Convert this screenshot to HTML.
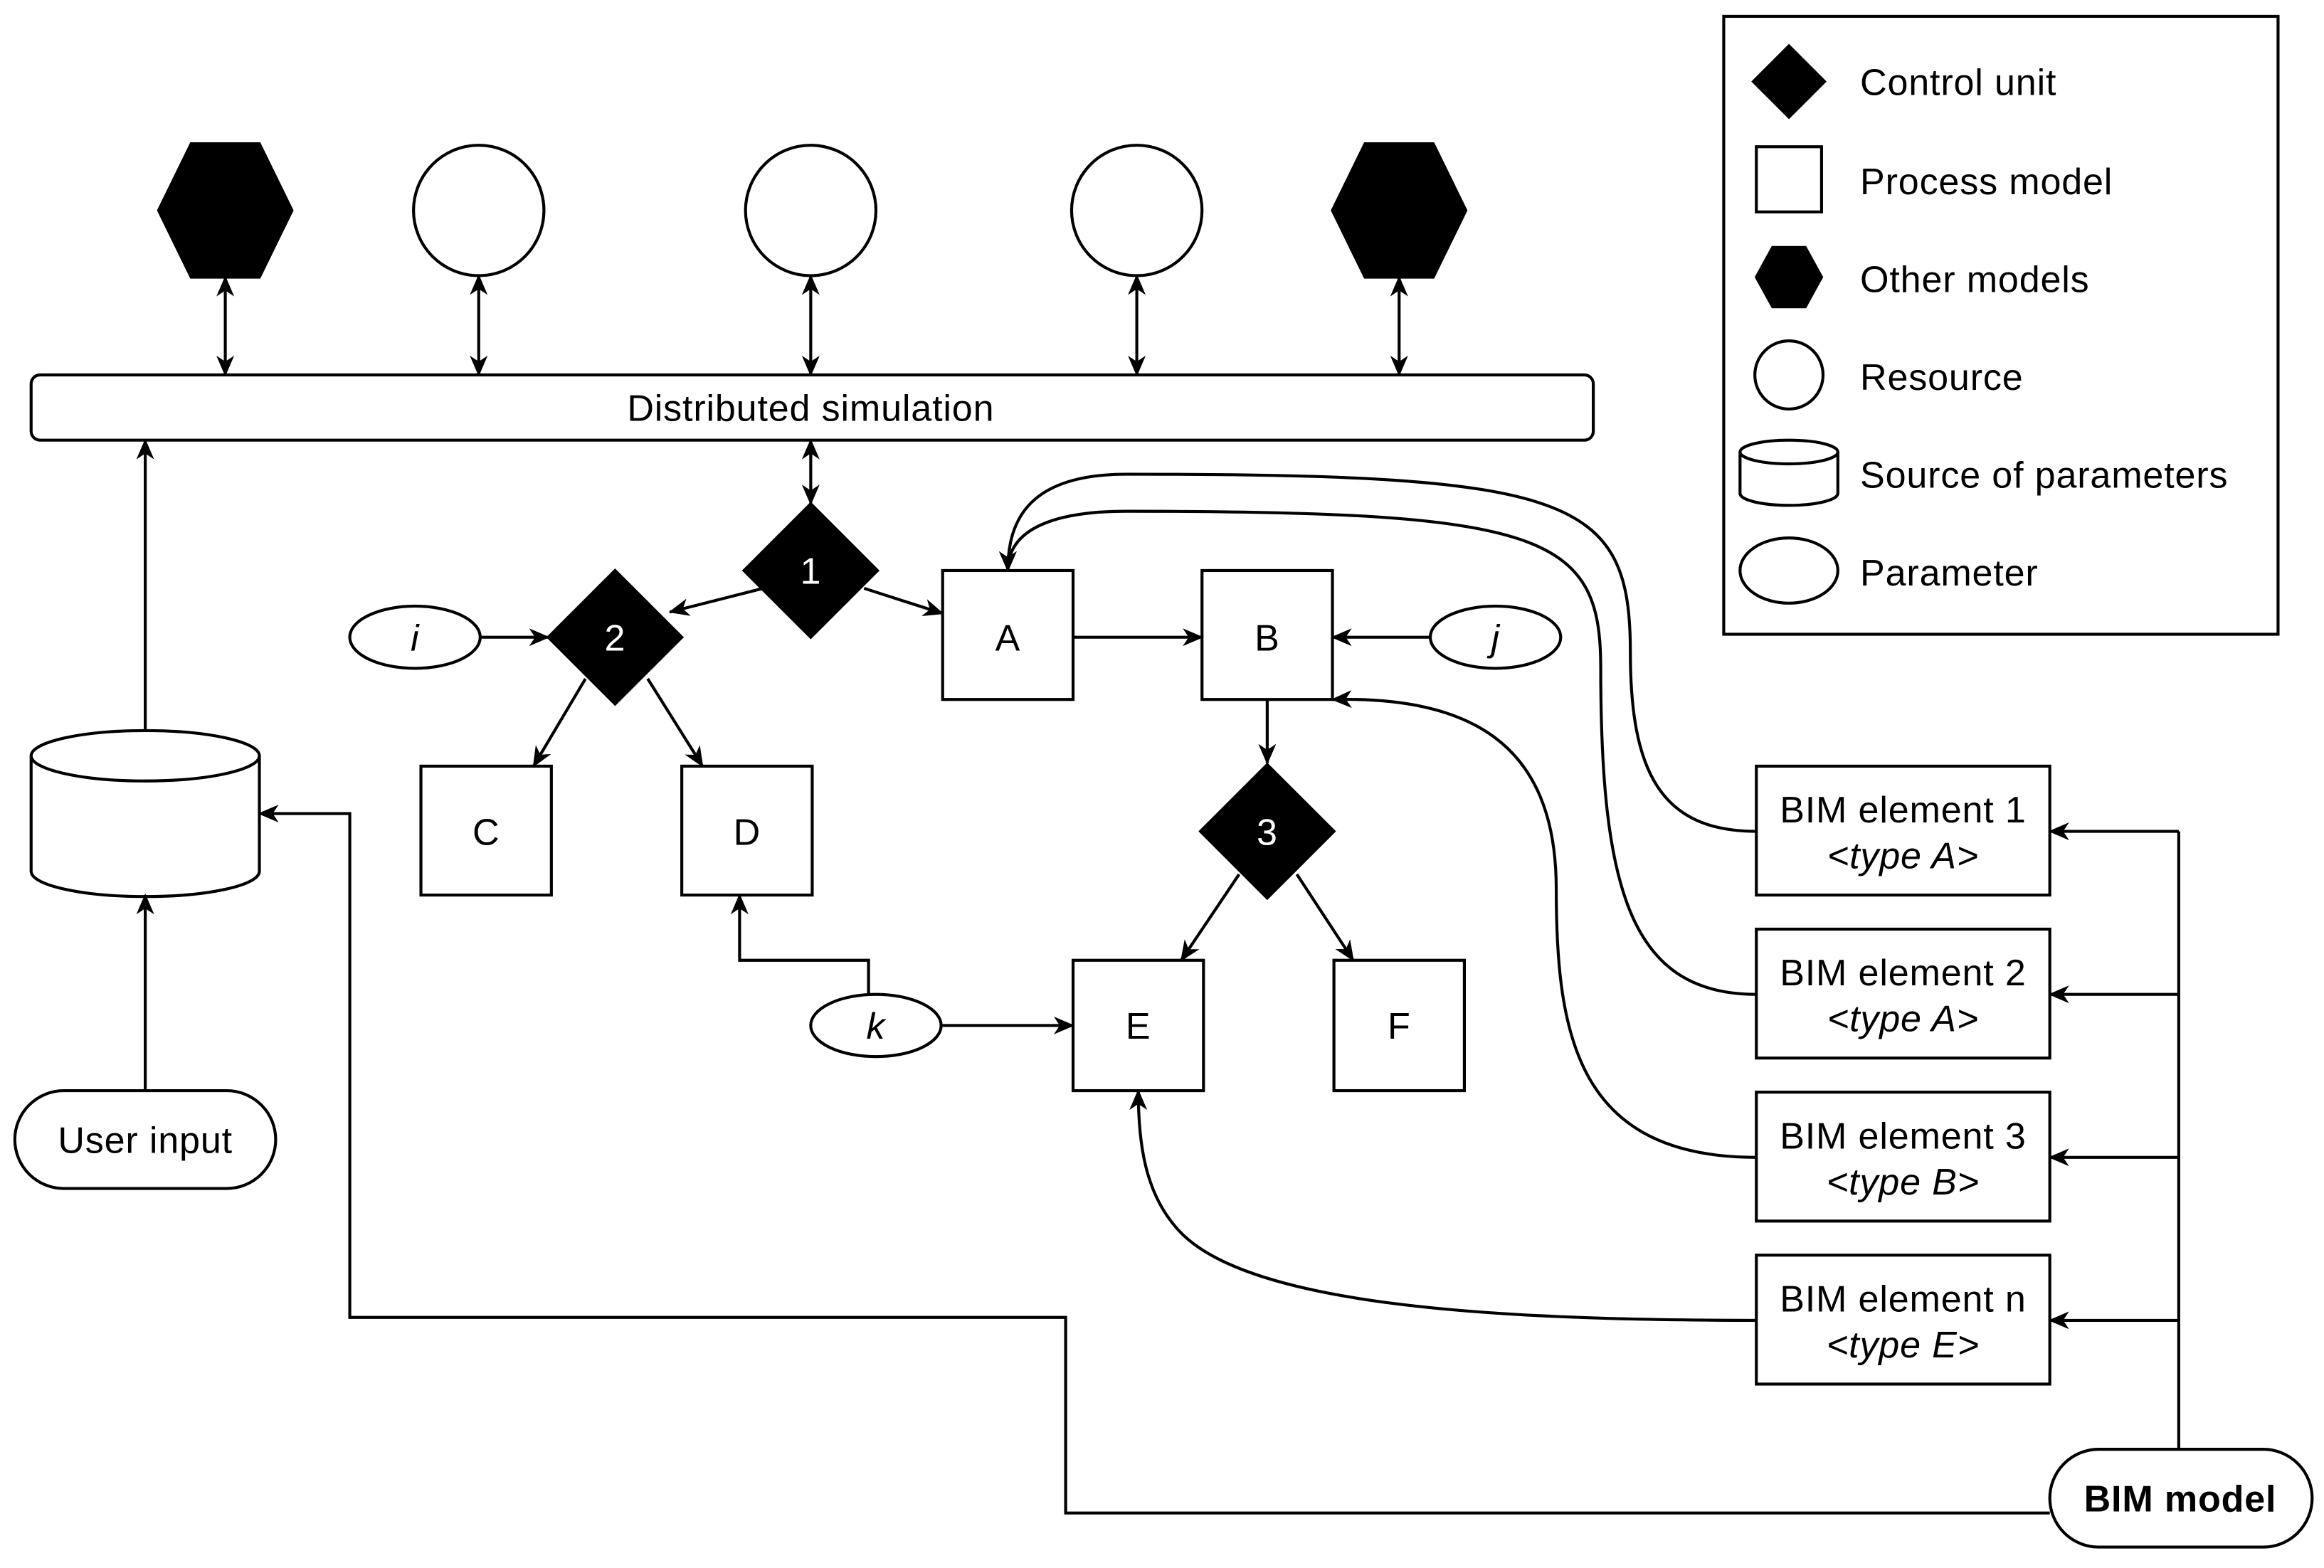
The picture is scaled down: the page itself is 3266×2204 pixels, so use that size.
<!DOCTYPE html>
<html><head><meta charset="utf-8"><style>html,body{margin:0;padding:0;background:#fff}svg{display:block}text{font-family:"Liberation Sans",sans-serif;font-size:25px;letter-spacing:0.4px;fill:#000}</style></head>
<body>
<svg width="3266" height="2204" viewBox="0 0 1568 1058.1" xmlns="http://www.w3.org/2000/svg">
<defs>
<marker id="a" markerWidth="14" markerHeight="12" refX="13" refY="6" orient="auto-start-reverse" markerUnits="userSpaceOnUse">
<path d="M0,0 L14,6 L0,12 L4,6 Z" fill="#000"/></marker>
</defs>
<g stroke="#000" stroke-width="2" fill="none">
<rect x="1163" y="11" width="374" height="417"/>
<path d="M1207,31 L1231,55 L1207,79 L1183,55 Z" fill="#000"/>
<rect x="1185" y="99" width="44" height="44" fill="#fff"/>
<path d="M1185,187 L1196,167 L1218,167 L1229,187 L1218,207 L1196,207 Z" fill="#000"/>
<circle cx="1207" cy="253" r="23" fill="#fff"/>
<path d="M1174,305 L1174,333 A33,8 0 0 0 1240,333 L1240,305" fill="#fff"/>
<ellipse cx="1207" cy="305" rx="33" ry="8" fill="#fff"/>
<ellipse cx="1207" cy="385" rx="33" ry="22" fill="#fff"/>
<path d="M107,142 L129,97 L175,97 L197,142 L175,187 L129,187 Z" fill="#000"/>
<path d="M899,142 L921,97 L967,97 L989,142 L967,187 L921,187 Z" fill="#000"/>
<circle cx="323" cy="142" r="44"/>
<circle cx="547" cy="142" r="44"/>
<circle cx="767" cy="142" r="44"/>
<line x1="152" y1="187" x2="152" y2="253" marker-start="url(#a)" marker-end="url(#a)"/>
<line x1="323" y1="186" x2="323" y2="253" marker-start="url(#a)" marker-end="url(#a)"/>
<line x1="547" y1="186" x2="547" y2="253" marker-start="url(#a)" marker-end="url(#a)"/>
<line x1="767" y1="186" x2="767" y2="253" marker-start="url(#a)" marker-end="url(#a)"/>
<line x1="944" y1="187" x2="944" y2="253" marker-start="url(#a)" marker-end="url(#a)"/>
<rect x="21" y="253" width="1054" height="44" rx="6"/>
<line x1="547" y1="297" x2="547" y2="340" marker-start="url(#a)" marker-end="url(#a)"/>
<path d="M547,340 L592,385 L547,430 L502,385 Z" fill="#000"/>
<path d="M415,385 L460,430 L415,475 L370,430 Z" fill="#000"/>
<path d="M855,516 L900,561 L855,606 L810,561 Z" fill="#000"/>
<rect x="636" y="385" width="88" height="87"/>
<rect x="811" y="385" width="88" height="87"/>
<rect x="284" y="517" width="88" height="87"/>
<rect x="460" y="517" width="88" height="87"/>
<rect x="724" y="648" width="88" height="88"/>
<rect x="900" y="648" width="88" height="88"/>
<ellipse cx="280" cy="430" rx="44" ry="21"/>
<ellipse cx="1009" cy="430" rx="44" ry="21"/>
<ellipse cx="591" cy="692" rx="44" ry="21"/>
<path d="M21,510 L21,588 A77,17 0 0 0 175,588 L175,510"/>
<ellipse cx="98" cy="510" rx="77" ry="17"/>
<rect x="10" y="736" width="176" height="66" rx="33"/>
<rect x="1185" y="517" width="198" height="87"/>
<rect x="1185" y="627" width="198" height="87"/>
<rect x="1185" y="737" width="198" height="87"/>
<rect x="1185" y="847" width="198" height="87"/>
<rect x="1383" y="978" width="177" height="66" rx="33"/>
<line x1="515" y1="397" x2="452" y2="413" marker-end="url(#a)"/>
<line x1="583" y1="397" x2="636" y2="414" marker-end="url(#a)"/>
<line x1="324" y1="430" x2="370" y2="430" marker-end="url(#a)"/>
<line x1="724" y1="430" x2="811" y2="430" marker-end="url(#a)"/>
<line x1="965" y1="430" x2="899" y2="430" marker-end="url(#a)"/>
<line x1="855" y1="472" x2="855" y2="515" marker-end="url(#a)"/>
<line x1="836" y1="590" x2="797" y2="648" marker-end="url(#a)"/>
<line x1="875" y1="590" x2="913" y2="648" marker-end="url(#a)"/>
<line x1="395" y1="458" x2="360" y2="517" marker-end="url(#a)"/>
<line x1="437" y1="458" x2="474" y2="517" marker-end="url(#a)"/>
<line x1="635" y1="692" x2="724" y2="692" marker-end="url(#a)"/>
<path d="M586,671 L586,648 L499,648 L499,604" marker-end="url(#a)"/>
<line x1="98" y1="493" x2="98" y2="297" marker-end="url(#a)"/>
<line x1="98" y1="736" x2="98" y2="604" marker-end="url(#a)"/>
<path d="M1470,978 L1470,561"/>
<line x1="1470" y1="561" x2="1383" y2="561" marker-end="url(#a)"/>
<line x1="1470" y1="671" x2="1383" y2="671" marker-end="url(#a)"/>
<line x1="1470" y1="781" x2="1383" y2="781" marker-end="url(#a)"/>
<line x1="1470" y1="891" x2="1383" y2="891" marker-end="url(#a)"/>
<path d="M1383,1021 L719,1021 L719,889 L236,889 L236,549 L175,549" marker-end="url(#a)"/>
<path d="M1185,561 C1120,561 1100,520 1100,440 C1100,335 1060,320 760,320 C695,320 680,350 680,385" marker-end="url(#a)"/>
<path d="M1185,671 C1100,671 1080,600 1080,450 C1080,360 1040,345 760,345 C705,345 680,360 680,385" marker-end="url(#a)"/>
<path d="M1185,781 C1065,781 1050,700 1050,600 C1050,500 990,470 899,472" marker-end="url(#a)"/>
<path d="M1185,891 C1000,891 840,880 795,830 C772,805 768,770 768,736" marker-end="url(#a)"/>
</g>
<g>
<text x="1255" y="64">Control unit</text>
<text x="1255" y="131">Process model</text>
<text x="1255" y="197">Other models</text>
<text x="1255" y="263">Resource</text>
<text x="1255" y="329">Source of parameters</text>
<text x="1255" y="395">Parameter</text>
<text x="547" y="284" text-anchor="middle">Distributed simulation</text>
<text x="547" y="394" text-anchor="middle" style="fill:#fff">1</text>
<text x="415" y="439" text-anchor="middle" style="fill:#fff">2</text>
<text x="855" y="570" text-anchor="middle" style="fill:#fff">3</text>
<text x="680" y="439" text-anchor="middle">A</text>
<text x="855" y="439" text-anchor="middle">B</text>
<text x="328" y="570" text-anchor="middle">C</text>
<text x="504" y="570" text-anchor="middle">D</text>
<text x="768" y="701" text-anchor="middle">E</text>
<text x="944" y="701" text-anchor="middle">F</text>
<text x="280" y="439" text-anchor="middle" font-style="italic">i</text>
<text x="1009" y="439" text-anchor="middle" font-style="italic">j</text>
<text x="591" y="701" text-anchor="middle" font-style="italic">k</text>
<text x="98" y="778" text-anchor="middle">User input</text>
<text x="1284" y="555" text-anchor="middle">BIM element 1</text>
<text x="1284" y="586" text-anchor="middle" font-style="italic">&lt;type A&gt;</text>
<text x="1284" y="665" text-anchor="middle">BIM element 2</text>
<text x="1284" y="696" text-anchor="middle" font-style="italic">&lt;type A&gt;</text>
<text x="1284" y="775" text-anchor="middle">BIM element 3</text>
<text x="1284" y="806" text-anchor="middle" font-style="italic">&lt;type B&gt;</text>
<text x="1284" y="885" text-anchor="middle">BIM element n</text>
<text x="1284" y="916" text-anchor="middle" font-style="italic">&lt;type E&gt;</text>
<text x="1471" y="1020" text-anchor="middle" font-weight="bold">BIM model</text>
</g>
</svg>
</body></html>
